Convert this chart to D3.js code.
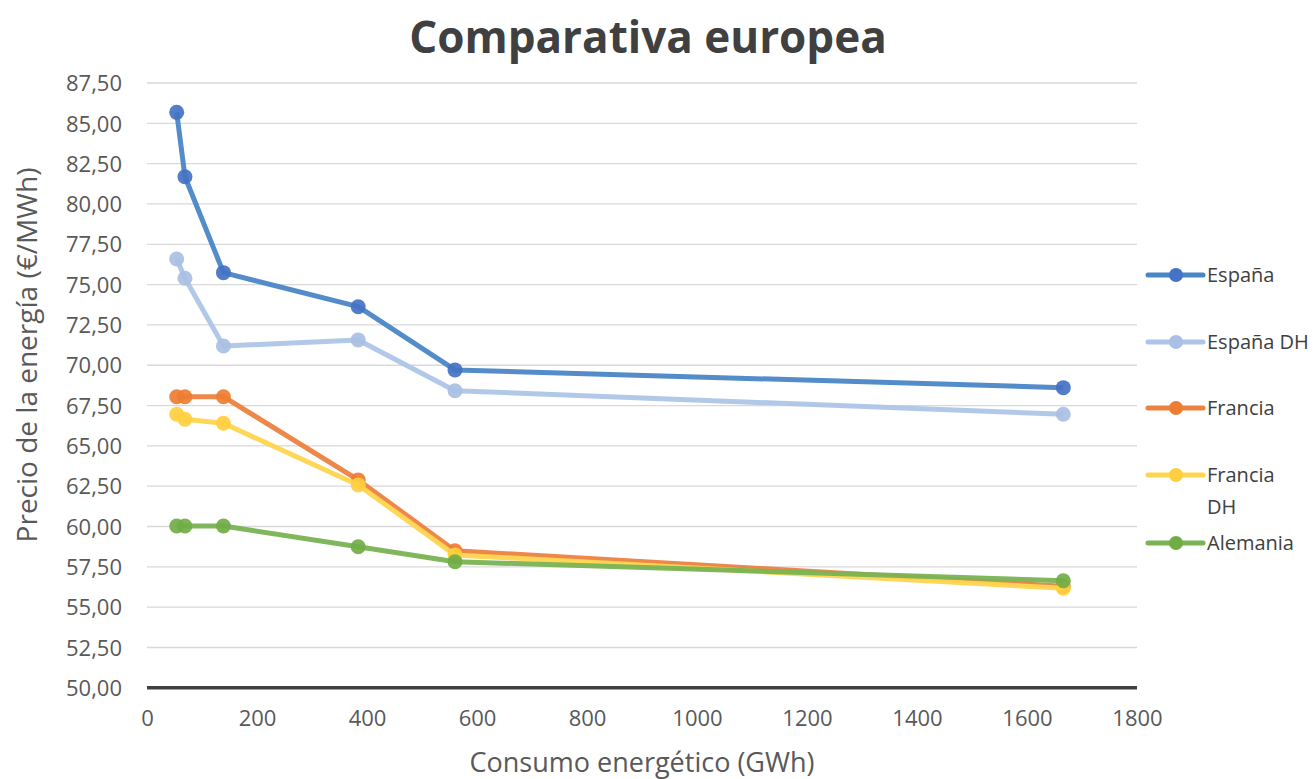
<!DOCTYPE html>
<html><head><meta charset="utf-8">
<script src="https://cdn.jsdelivr.net/npm/d3@7"></script>
<style>body{margin:0;background:#fff}svg{display:block;font-family:"Open Sans",sans-serif}</style>
</head><body><svg id="c" width="1314" height="779"></svg>
<script>
const xValues = [54, 69, 139, 384, 560, 1666];
const seriesNames = ["España", "España DH", "Francia", "Francia DH", "Alemania"];
const espana = [85.68, 81.69, 75.74, 73.63, 69.71, 68.61];
const espanaDH = [76.59, 75.39, 71.19, 71.57, 68.42, 66.96];
const francia = [68.05, 68.05, 68.05, 62.89, 58.50, 56.30];
const franciaDH = [66.96, 66.65, 66.40, 62.58, 58.24, 56.17];
const alemania = [60.03, 60.03, 60.03, 58.75, 57.82, 56.64];
const yTicks = [50, 52.5, 55, 57.5, 60, 62.5, 65, 67.5, 70, 72.5, 75, 77.5, 80, 82.5, 85, 87.5];
const xTicks = [0, 200, 400, 600, 800, 1000, 1200, 1400, 1600, 1800];
const lineColors = ["#4a86c5", "#adc5e7", "#ed8240", "#ffd54f", "#79b353"];
const markerColors = ["#4472c4", "#a9bfe3", "#ed7d31", "#ffcf3f", "#70ad47"];

const series = [espana, espanaDH, francia, franciaDH, alemania];
const svg = d3.select("#c");
const x = d3.scaleLinear().domain([0, 1800]).range([147, 1137]);
const y = d3.scaleLinear().domain([50, 87.5]).range([687.8, 83]);

// grid
svg.append("g").selectAll("line").data(yTicks.filter(d => d > 50)).join("line")
  .attr("x1", x(0)).attr("x2", x(1800)).attr("y1", d => y(d)).attr("y2", d => y(d))
  .attr("stroke", "#d9d9d9").attr("stroke-width", 1.3);

// y axis labels
const yAxis = d3.axisLeft(y).tickValues(yTicks).tickSize(0).tickPadding(0)
  .tickFormat(d => d3.format(".2f")(d).replace(".", ","));
const gy = svg.append("g").attr("transform", "translate(122,0)").call(yAxis);
gy.select(".domain").remove();
gy.selectAll("text").attr("font-size", 22).attr("fill", "#595959").attr("font-family", "Open Sans").attr("dy", "0.35em");

// x axis labels
const xAxis = d3.axisBottom(x).tickValues(xTicks).tickSize(0).tickPadding(0).tickFormat(d => d);
const gx = svg.append("g").attr("transform", "translate(0,710)").call(xAxis);
gx.select(".domain").remove();
gx.selectAll("text").attr("font-size", 22).attr("fill", "#595959").attr("font-family", "Open Sans").attr("dy", "0.71em");

// baseline
svg.append("line").attr("x1", x(0)).attr("x2", x(1800)).attr("y1", y(50)).attr("y2", y(50))
  .attr("stroke", "#404040").attr("stroke-width", 3.5);

// lines
const line = d3.line().x((d, i) => x(xValues[i])).y(d => y(d));
series.forEach((s, k) => {
  const g = svg.append("g");
  g.append("path").attr("d", line(s)).attr("fill", "none")
    .attr("stroke", lineColors[k]).attr("stroke-width", 5).attr("stroke-linejoin", "round").attr("opacity", 0.95);
  g.selectAll("circle").data(s).join("circle")
    .attr("cx", (d, i) => x(xValues[i])).attr("cy", d => y(d)).attr("r", 7.5)
    .attr("fill", markerColors[k]).attr("opacity", 0.92);
});

// legend
const legY = [275, 342, 408, 475, 543];
seriesNames.forEach((n, k) => {
  const g = svg.append("g").attr("transform", `translate(0,${legY[k]})`);
  g.append("line").attr("x1", 1148).attr("x2", 1203).attr("stroke", lineColors[k]).attr("stroke-width", 5).attr("stroke-linecap", "round");
  g.append("circle").attr("cx", 1176).attr("r", 7).attr("fill", markerColors[k]);
  const t = g.append("text").attr("x", 1207).attr("font-size", 20).attr("fill", "#404040").attr("dy", "0.35em");
  if (n === "Francia DH") {
    t.append("tspan").attr("x", 1207).text("Francia");
    t.append("tspan").attr("x", 1207).attr("dy", "1.6em").text("DH");
  } else t.text(n);
});

// title
svg.append("text").attr("x", 648).attr("y", 53).attr("text-anchor", "middle")
  .attr("font-size", 44).attr("font-weight", "bold").attr("fill", "#404040").text("Comparativa europea");
// axis titles
svg.append("text").attr("transform", "translate(37,355) rotate(-90)").attr("text-anchor", "middle")
  .attr("font-size", 28).attr("fill", "#595959").text("Precio de la energía (€/MWh)");
svg.append("text").attr("x", 642).attr("y", 772).attr("text-anchor", "middle")
  .attr("font-size", 27).attr("fill", "#595959").text("Consumo energético (GWh)");
</script></body></html>
